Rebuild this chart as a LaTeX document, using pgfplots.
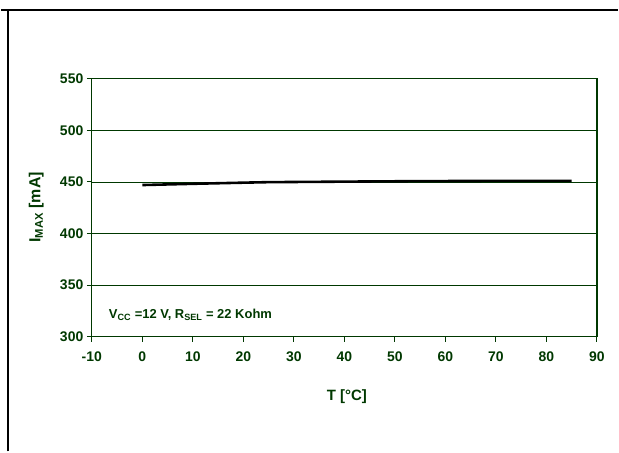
\documentclass[border=0pt]{standalone}
\usepackage{fontspec}
\setmainfont{Liberation Sans}
\usepackage{pgfplots}
\pgfplotsset{compat=1.18}
\definecolor{dg}{RGB}{0,56,0}
\begin{document}
\begin{tikzpicture}[x=1pt,y=1pt]
\path (0,0) rectangle (619,453);
\draw[line width=2.2pt] (0,443) -- (619,443);
\draw[line width=2.2pt] (7,0) -- (7,443);
\begin{axis}[
  at={(91pt,115pt)}, anchor=south west,
  scale only axis, width=507pt, height=259pt,
  xmin=-10, xmax=90, ymin=300, ymax=550,
  xtick={-10,0,...,90}, ytick={300,350,...,550},
  axis line style={dg, line width=1.2pt},
  ymajorgrids, grid style={dg, line width=0.8pt},
  tick style={dg, line width=1pt}, major tick length=5pt, tick align=outside,
  xtick pos=bottom, ytick pos=left,
  /pgf/number format/assume math mode=true,
  ticklabel style={font=\fontsize{14}{16}\selectfont\bfseries, text=dg},
  xticklabel style={yshift=-6pt},
  xlabel={T [°C]}, ylabel={I\textsubscript{MAX} [mA]},
  every axis x label/.style={at={(axis description cs:0.505,-0.232)}, anchor=center,
     font=\fontsize{15}{17}\selectfont\bfseries, text=dg},
  every axis y label/.style={at={(axis description cs:-0.11,0.502)}, rotate=90, anchor=center,
     font=\fontsize{16}{18}\selectfont\bfseries, text=dg},
]
\addplot[black, line width=2.6pt] coordinates {
(0,447) (10,448.2) (20,449.3) (25,449.8) (40,450.3) (55,450.8) (70,451) (85,451)
};
\node[anchor=west, text=dg, font=\fontsize{13}{15}\selectfont\bfseries] at (axis cs:-7.3,321) {V\textsubscript{CC} =12 V, R\textsubscript{SEL} = 22 Kohm};
\end{axis}
\end{tikzpicture}
\end{document}
